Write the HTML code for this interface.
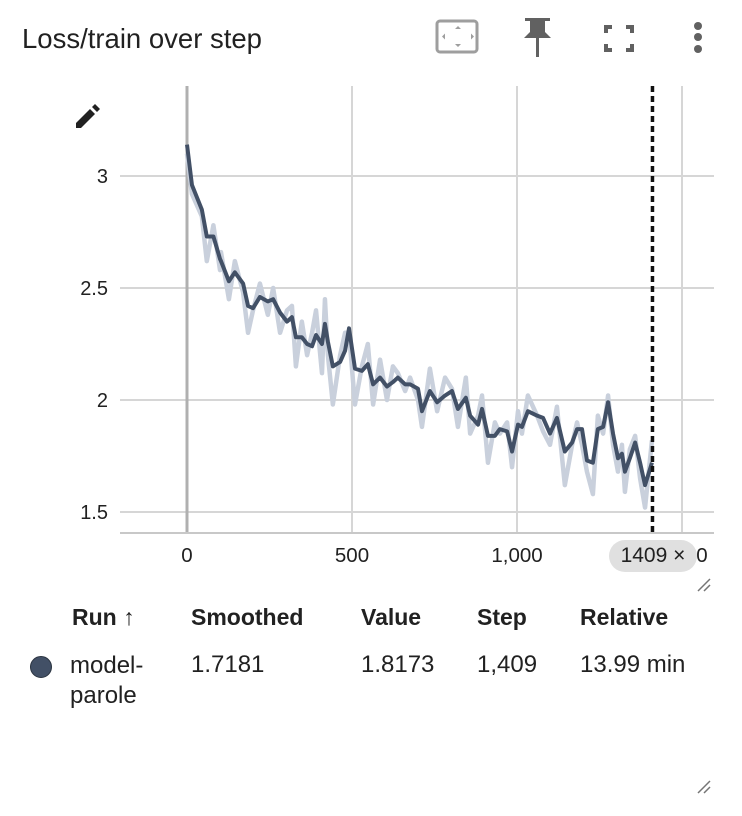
<!DOCTYPE html>
<html><head><meta charset="utf-8"><style>
body{margin:0;width:742px;height:816px;background:#fff;font-family:"Liberation Sans",sans-serif;color:#212121;position:relative;overflow:hidden}
.t{position:absolute;white-space:nowrap}
.h{font-size:23px;font-weight:bold;top:604px}
.c{font-size:24px;top:651px}
</style></head><body>
<div class="t" style="left:22px;top:23px;font-size:27.5px">Loss/train over step</div>
<svg width="742" height="816" style="position:absolute;left:0;top:0" id="svg">
<g><rect x="437" y="21" width="40" height="31" rx="3" fill="none" stroke="#9e9e9e" stroke-width="3"/><path d="M458 26l-3 3h6zM458 47l-3-3h6zM442 36.5l3-3v6zM474 36.5l-3-3v6z" fill="#9e9e9e"/></g>
<g fill="#616161"><rect x="525" y="18" width="25" height="3"/><rect x="530" y="20" width="15" height="14"/><path d="M524 38h27l-6-6h-15z"/><rect x="536" y="37" width="3" height="20"/></g>
<g fill="none" stroke="#616161" stroke-width="4"><path d="M606 33v-6h6M626 27h6v6M632 44v6h-6M612 50h-6v-6"/></g>
<g fill="#616161"><circle cx="698" cy="26" r="4"/><circle cx="698" cy="37" r="4"/><circle cx="698" cy="49" r="4"/></g>
<g fill="#212121"><path d="M76 128l0-5 14-14 5 5-14 14z"/><path d="M92 107l3-3 5 5-3 3z"/></g>
<g id="plot"></g>
<g stroke="#757575" stroke-width="1.5"><path d="M698 591l12-12M704 591l6-6"/></g>
<g stroke="#757575" stroke-width="1.5"><path d="M698 793l12-12M704 793l6-6"/></g>
</svg>
<div class="t" style="left:609px;top:540px;width:88px;height:32px;border-radius:16px;background:#e0e0e0;font-size:21px;line-height:32px;text-align:center">1409 ×</div>
<div>
<div class="t h" style="left:72px">Run ↑</div>
<div class="t h" style="left:191px">Smoothed</div>
<div class="t h" style="left:361px">Value</div>
<div class="t h" style="left:477px">Step</div>
<div class="t h" style="left:580px">Relative</div>
<div class="t" style="left:30px;top:656px;width:20px;height:20px;border-radius:50%;background:#425066;border:1px solid #2a3340"></div>
<div class="t c" style="left:70px;line-height:30px">model-<br>parole</div>
<div class="t c" style="left:191px">1.7181</div>
<div class="t c" style="left:361px">1.8173</div>
<div class="t c" style="left:477px">1,409</div>
<div class="t c" style="left:580px">13.99 min</div>
</div>
<script>
const steps=[0,15,45,60,80,100,103,127,145,170,185,200,221,245,261,282,303,318,330,348,364,379,391,409,418,427,442,464,479,491,509,530,548,564,585,606,624,639,661,676,700,712,736,758,782,803,821,845,858,882,894,912,933,948,970,985,1003,1015,1033,1061,1079,1100,1121,1145,1167,1182,1197,1212,1230,1245,1261,1276,1291,1306,1318,1327,1342,1358,1373,1388,1409];
const smoothed=[3.14,2.96,2.85,2.73,2.73,2.63,2.62,2.53,2.57,2.52,2.42,2.41,2.46,2.44,2.45,2.39,2.35,2.37,2.28,2.28,2.25,2.24,2.29,2.25,2.34,2.26,2.15,2.17,2.22,2.32,2.14,2.13,2.16,2.07,2.10,2.06,2.08,2.10,2.07,2.07,2.05,1.95,2.04,1.99,2.02,2.04,1.96,2.01,1.93,1.89,1.96,1.84,1.84,1.87,1.86,1.77,1.89,1.88,1.95,1.93,1.92,1.85,1.92,1.77,1.81,1.87,1.87,1.73,1.72,1.87,1.88,1.99,1.85,1.74,1.76,1.68,1.74,1.81,1.72,1.62,1.72];
const raw=[3.10,2.92,2.82,2.62,2.78,2.58,2.66,2.45,2.62,2.48,2.30,2.40,2.52,2.38,2.50,2.30,2.40,2.42,2.15,2.35,2.20,2.30,2.40,2.12,2.45,2.20,1.98,2.20,2.30,2.30,1.98,2.15,2.25,1.98,2.18,2.00,2.15,2.12,2.04,2.10,2.00,1.88,2.14,1.95,2.10,2.05,1.88,2.10,1.85,1.93,2.02,1.72,1.90,1.85,1.90,1.70,1.95,1.85,2.02,1.93,1.86,1.80,1.97,1.62,1.80,1.90,1.80,1.68,1.58,1.93,1.85,2.02,1.80,1.68,1.80,1.59,1.78,1.84,1.65,1.52,1.82];
const xTicks=[0,500,1000,1500];
const xTickLabels=["0","500","1,000","1,500"];
const yTicks=[1.5,2,2.5,3];
const yTickLabels=["1.5","2","2.5","3"];
const cursorStep=1409;
const L=120,R=714,T=86,B=533;
const X=s=>187+s*0.33, Y=v=>176+(3-v)*224;
const NS="http://www.w3.org/2000/svg";
const g=document.getElementById('plot');
function mk(t,a){const e=document.createElementNS(NS,t);for(const k in a)e.setAttribute(k,a[k]);g.appendChild(e);return e;}
yTicks.forEach((v,i)=>{
 const l=mk('line',{x1:L,x2:R,y1:Y(v),y2:Y(v),stroke:'#d6d6d6','stroke-width':2});
 
 
 const t=mk('text',{x:108,y:Y(v)+7,'text-anchor':'end','font-size':20,fill:'#212121'});
 t.textContent=yTickLabels[i];
 
 
});
xTicks.forEach((s,i)=>{
 const l=mk('line',{x1:X(s),x2:X(s),y1:T,y2:B,stroke:s===0?'#b0b0b0':'#d6d6d6','stroke-width':s===0?3:2});
 
 
 const t=mk('text',{x:X(s),y:562,'text-anchor':'middle','font-size':20.5,fill:'#212121'});
 t.textContent=xTickLabels[i];
 
 
});
const ax=mk('line',{x1:L,x2:R,y1:B,y2:B,stroke:'#c8c8c8','stroke-width':2});


const pr=mk('polyline',{points:steps.map((s,i)=>X(s)+','+Y(raw[i])).join(' '),fill:'none',stroke:'#c9d0dc','stroke-width':4.5,'stroke-linejoin':'round'});


const ps=mk('polyline',{points:steps.map((s,i)=>X(s)+','+Y(smoothed[i])).join(' '),fill:'none',stroke:'#425066','stroke-width':4,'stroke-linejoin':'round'});


const c=mk('line',{x1:X(cursorStep)+0.5,x2:X(cursorStep)+0.5,y1:T,y2:B,stroke:'#111','stroke-width':3.5,'stroke-dasharray':'6 4'});


</script>
</body></html>
